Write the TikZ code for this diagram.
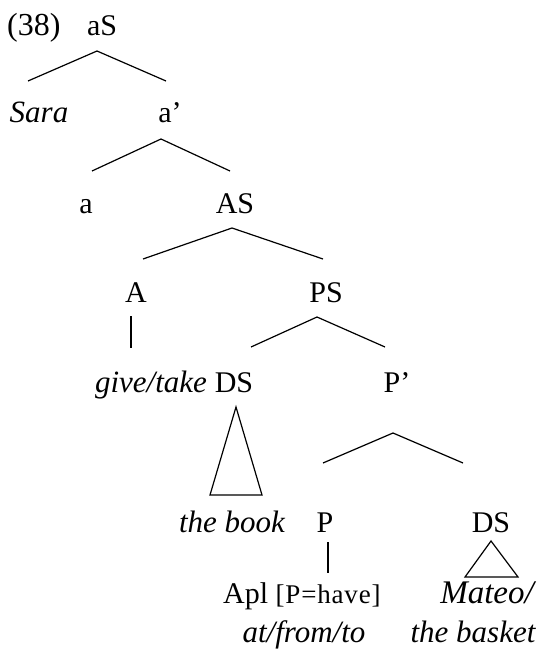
\documentclass[tikz,border=0pt]{standalone}
\usepackage{fontspec}
\setmainfont{Liberation Serif}
\newfontfamily\notefont{Liberation Serif}[LetterSpace=3]
\usepackage{tikz}

\begin{document}
\begin{tikzpicture}[x=1pt,y=-1pt,
  word/.style={anchor=base,inner sep=0pt,font=\fontsize{30}{36}\selectfont},
  term/.style={word,font=\fontsize{31}{36}\selectfont\itshape},
  branch/.style={line width=1.2pt},
  stem/.style={line width=2.4pt}]
\useasboundingbox (0,0) rectangle (541,650);

\node[word,anchor=base west,font=\fontsize{32}{36}\selectfont] (ex) at (7,36) {(38)};
\node[word] (aS) at (102,36) {aS};
\node[term] (Sara) at (39,123) {Sara};
\node[word] (a1) at (170,123) {a'};
\node[word] (a) at (86,213) {a};
\node[word] (AS) at (235,213) {AS};
\node[word] (A) at (136,302) {A};
\node[word] (PS) at (326,302) {PS};
\node[term] (give) at (151,392) {give/take};
\node[word] (DS) at (234,392) {DS};
\node[word] (P1) at (397,392) {P'};
\node[term] (book) at (232,532) {the book};
\node[word] (P) at (325,532) {P};
\node[word] (DS2) at (491,532) {DS};
\node[word,anchor=base west] (Apl) at (223,603) {Apl {\notefont\fontsize{27}{30}\selectfont [P=have]}};
\node[term,font=\fontsize{33}{36}\selectfont\itshape] (Mateo) at (487,603) {Mateo/};
\node[term] (to) at (304,642) {at/from/to};
\node[term] (basket) at (473,642) {the basket};

% branches
\draw[branch] ([shift={(-11,-42)}]Sara.base) -- ([shift={(-5,15)}]aS.base) -- ([shift={(-4,-42)}]a1.base);
\draw[branch] ([shift={(6,-42)}]a.base) -- ([shift={(-9,16)}]a1.base) -- ([shift={(-5,-42)}]AS.base);
\draw[branch] ([shift={(7,-43)}]A.base) -- ([shift={(-3,15)}]AS.base) -- ([shift={(-3,-43)}]PS.base);
\draw[branch] ([shift={(17,-45)}]DS.base) -- ([shift={(-9,15)}]PS.base) -- ([shift={(-12,-45)}]P1.base);
\draw[branch] ([shift={(-2,-69)}]P.base) -- ([shift={(-4,41)}]P1.base) -- ([shift={(-28,-69)}]DS2.base);
\draw[stem] ([shift={(-5,14)}]A.base) -- ([shift={(-20,-44)}]give.base);
\draw[stem] ([shift={(3,10)}]P.base) -- ([shift={(105,-30)}]Apl.base west);

% triangles
\draw[branch] ([shift={(2,15)}]DS.base) -- ([shift={(-22,-37)}]book.base) -- ([shift={(30,-37)}]book.base) -- cycle;
\draw[branch] ([shift={(0,9)}]DS2.base) -- ([shift={(-22,-26)}]Mateo.base) -- ([shift={(31,-26)}]Mateo.base) -- cycle;
\end{tikzpicture}
\end{document}
